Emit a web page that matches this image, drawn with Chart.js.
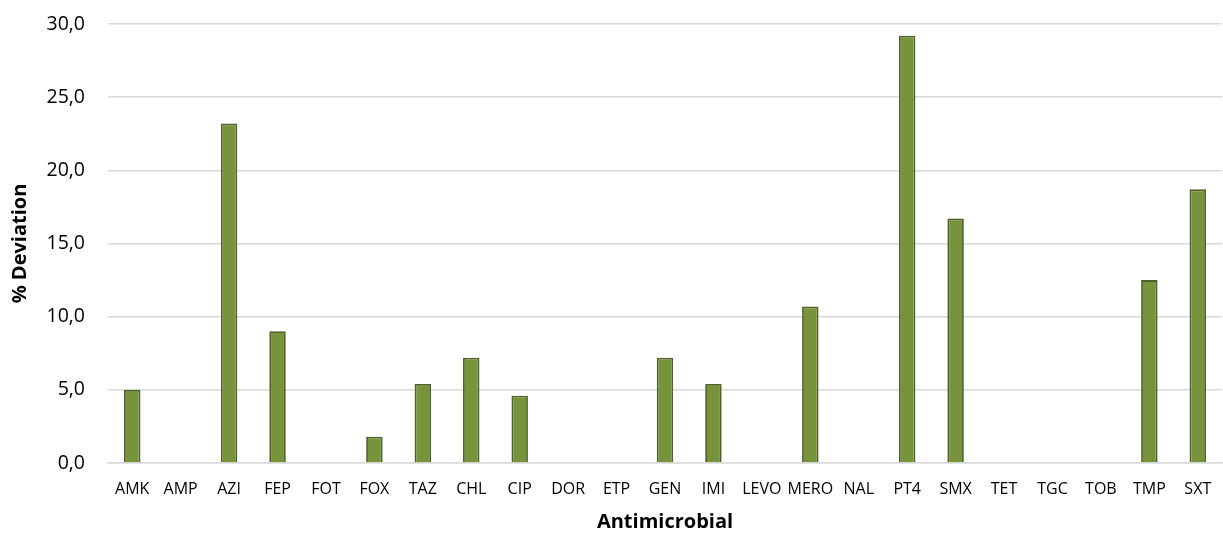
<!DOCTYPE html>
<html>
<head>
<meta charset="utf-8">
<script src="https://cdn.jsdelivr.net/npm/chart.js@4"></script>
<style>
  html, body { margin: 0; padding: 0; background: #ffffff; }
  #wrap { width: 1223px; height: 534px; position: relative; }
</style>
</head>
<body>
<div id="wrap"><canvas id="chart" width="1223" height="534"></canvas></div>
<script>
// Antimicrobial agents on the category axis
const categories = ["AMK", "AMP", "AZI", "FEP", "FOT", "FOX", "TAZ", "CHL", "CIP", "DOR", "ETP", "GEN",
                    "IMI", "LEVO", "MERO", "NAL", "PT4", "SMX", "TET", "TGC", "TOB", "TMP", "SXT"];
// % deviation per agent
const deviation = [5.0, 0, 23.2, 9.0, 0, 1.8, 5.4, 7.2, 4.6, 0, 0, 7.2,
                   5.4, 0, 10.7, 0, 29.2, 16.7, 0, 0, 0, 12.5, 18.7];
// value axis ticks
const yTicks = [0, 5, 10, 15, 20, 25, 30];

const fontFamily = "'Open Sans', 'Noto Sans', 'Liberation Sans', sans-serif";

new Chart(document.getElementById('chart'), {
  type: 'bar',
  data: {
    labels: categories,
    datasets: [{
      data: deviation,
      backgroundColor: '#77933C',
      borderColor: '#4F6228',
      borderWidth: 1.8,
      barPercentage: 0.68,
      categoryPercentage: 0.5
    }]
  },
  options: {
    responsive: false,
    animation: false,
    layout: { padding: { left: 0, right: 1, top: 24, bottom: 0 } },
    plugins: { legend: { display: false }, tooltip: { enabled: false } },
    scales: {
      x: {
        grid: { display: false, drawTicks: false },
        border: { display: true, color: '#D9D9D9', width: 1.5 },
        ticks: {
          autoSkip: false, maxRotation: 0, color: '#000000', padding: 17,
          font: { family: fontFamily, size: 16 }
        },
        title: {
          display: true, text: 'Antimicrobial', color: '#000000', padding: { top: 0, bottom: 0 },
          font: { family: fontFamily, size: 20, weight: 'bold' }
        },
        afterFit: (s) => { s.height = 71; s.paddingLeft = 0; s.paddingRight = 0; }
      },
      y: {
        min: 0, max: 30,
        afterBuildTicks: (axis) => { axis.ticks = yTicks.map(v => ({ value: v })); },
        grid: { color: '#D9D9D9', lineWidth: 1.5, drawTicks: false },
        border: { display: false },
        ticks: {
          color: '#000000', padding: 23,
          font: { family: fontFamily, size: 19.5 },
          callback: (v) => Number(v).toFixed(1).replace('.', ',')
        },
        title: {
          display: true, text: '% Deviation', color: '#000000', padding: { top: 8, bottom: 8 },
          font: { family: fontFamily, size: 20, weight: 'bold' }
        },
        afterFit: (s) => { s.width = 108; s.paddingTop = 0; s.paddingBottom = 0; }
      }
    }
  }
});
</script>
</body>
</html>
